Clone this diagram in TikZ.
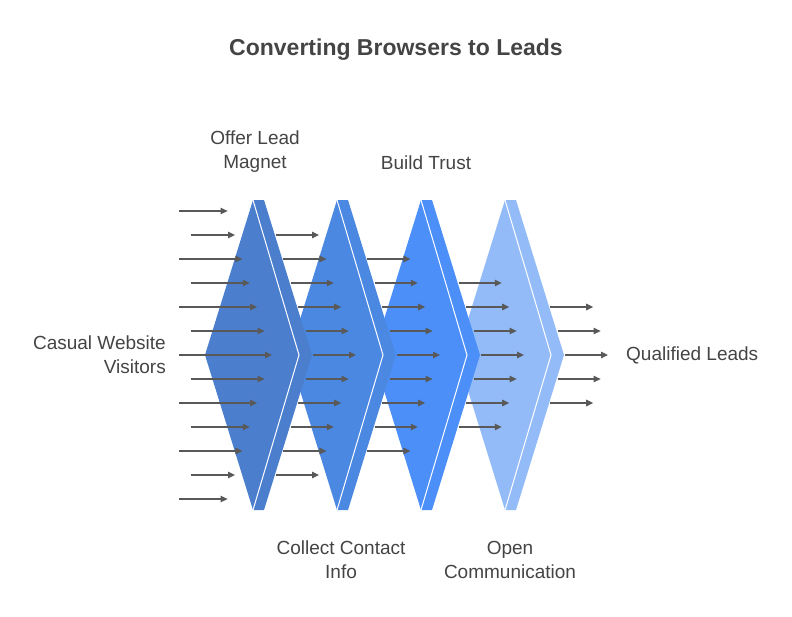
\documentclass[tikz,border=0pt]{standalone}
\usepackage{fontspec}
\setmainfont{Liberation Sans}
\usetikzlibrary{arrows.meta}
\definecolor{cA}{HTML}{4B7FCE}
\definecolor{cB}{HTML}{4A88E2}
\definecolor{cC}{HTML}{4C8FF8}
\definecolor{cD}{HTML}{93BBF8}
\definecolor{txt}{HTML}{444444}
\tikzset{
  lbl/.style={font=\fontsize{19}{24}\selectfont, text=txt, align=center, inner sep=0},
  flow/.style={line width=1.2pt, -{Triangle[length=7pt,width=6.5pt]}, color=black!65},
}
\begin{document}
\begin{tikzpicture}[x=1pt,y=-1pt]
\useasboundingbox (0,0) rectangle (792,616);
\node[lbl, font=\fontsize{23}{28}\selectfont\bfseries] (title) at (396,50) {Converting Browsers to Leads};
% shapes, right to left
\foreach \k/\c in {3/cD,2/cC,1/cB,0/cA}{
  \begin{scope}[xshift=84*\k]
  \fill[\c] (205,355) -- (253,200) -- (264,200) -- (312,355) -- (264,510) -- (253,510) -- cycle;
  \draw[white, line width=1pt] (253,200) -- (299,355) -- (253,510);
  \end{scope}
}
% arrows
\foreach \i in {-6,...,6}{
  \pgfmathsetmacro{\yy}{355+24*\i}
  \pgfmathsetmacro{\xs}{mod(abs(\i),2)==0 ? 179 : 191}
  \pgfmathsetmacro{\xe}{272-7.4*abs(\i)}
  \coordinate (s\i) at (\xs,\yy); \coordinate (e\i) at (\xe,\yy);
  \draw[flow] (s\i) -- (e\i);
}
\foreach \k/\n in {1/5,2/4,3/3,4/2}{
  \foreach \i in {-\n,...,\n}{
    \pgfmathsetmacro{\yy}{355+24*\i}
    \pgfmathsetmacro{\xs}{313+84*(\k-1)-7.4*abs(\i)}
    \coordinate (a\k\i) at (\xs,\yy); \coordinate (b\k\i) at (\xs+43,\yy);
    \draw[flow] (a\k\i) -- (b\k\i);
  }
}
\node[lbl] (l1) at (255,152) {Offer Lead\\Magnet};
\node[lbl] (l2) at (426,163) {Build Trust};
\node[lbl] (l3) at (341,560) {Collect Contact\\Info};
\node[lbl] (l4) at (510,560) {Open\\Communication};
\node[lbl, align=right, anchor=east] (in) at (166,355) {Casual Website\\Visitors};
\node[lbl, anchor=west] (out) at (626,355) {Qualified Leads};
\end{tikzpicture}
\end{document}
